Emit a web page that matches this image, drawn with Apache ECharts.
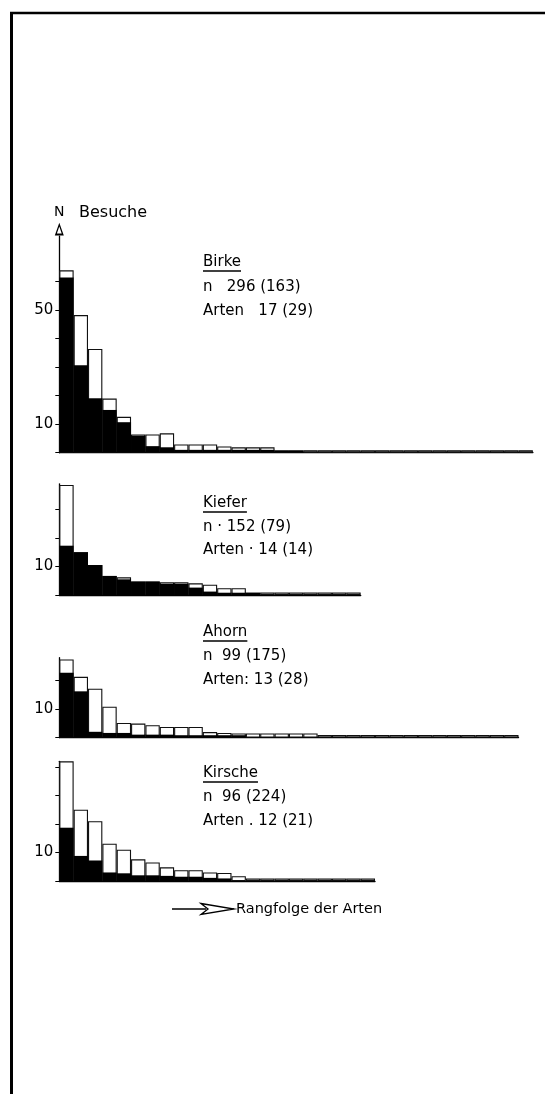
<!DOCTYPE html>
<html><head><meta charset="utf-8">
<script src="https://cdn.jsdelivr.net/npm/echarts@6/dist/echarts.min.js"></script>
<style>html,body{margin:0;padding:0;background:#fff}#c{width:545px;height:1094px}</style>
</head><body><div id="c"></div>
<script>
// ---- data ----
const birkeTotal = [64, 48.3, 36.4, 19, 12.6, 6.4, 6.4, 6.8, 2.9, 2.9, 2.9, 2.2, 1.9, 1.9, 1.9, 0.8, 0.8,
  0.9, 0.9, 0.9, 0.9, 0.9, 0.9, 0.9, 0.9, 0.9, 0.9, 0.9, 0.9, 0.9, 0.9, 0.9, 0.9];
const birkeBlack = [61.5, 30.7, 19.1, 15, 10.7, 6, 2.3, 1.9, 1, 1, 1, 1, 1, 1, 1, 0.8, 0.8,
  0, 0, 0, 0, 0, 0, 0, 0, 0, 0, 0, 0, 0, 0, 0, 0];
const kieferTotal = [38.6, 15, 10.5, 6.7, 6.2, 4.7, 4.7, 4.5, 4.5, 4.1, 3.6, 2.4, 2.4, 0.8,
  0.9, 0.9, 0.9, 0.9, 0.9, 0.9, 0.9];
const kieferBlack = [17.3, 15, 10.5, 6.7, 5.5, 4.7, 4.7, 4.0, 4.0, 2.6, 1.2, 0.8, 0.8, 0.8,
  0, 0, 0, 0, 0, 0, 0];
const ahornTotal = [27.4, 21.3, 17.1, 10.8, 5.1, 4.9, 4.3, 3.7, 3.7, 3.7, 1.9, 1.6, 1.4, 1.4, 1.4, 1.4, 1.4, 1.4,
  0.9, 0.9, 0.9, 0.9, 0.9, 0.9, 0.9, 0.9, 0.9, 0.9, 0.9, 0.9, 0.9, 0.9];
const ahornBlack = [22.7, 16.2, 2, 1.6, 1.6, 1, 1, 1, 0.8, 0.8, 0.8, 0.8, 0.8, 0, 0, 0, 0, 0,
  0, 0, 0, 0, 0, 0, 0, 0, 0, 0, 0, 0, 0, 0];
const kirscheTotal = [42, 25, 21, 13.1, 11, 7.6, 6.5, 4.8, 3.8, 3.8, 3.0, 2.8, 1.7,
  0.9, 0.9, 0.9, 0.9, 0.9, 0.9, 0.9, 0.9, 0.9];
const kirscheBlack = [18.7, 8.8, 7.2, 3, 2.7, 2, 2, 1.8, 1.5, 1.5, 1.1, 0.9, 0,
  0, 0, 0, 0, 0, 0, 0, 0, 0];

const panelNames = ['Birke', 'Kiefer', 'Ahorn', 'Kirsche'];
const panelN = ['n   296 (163)', 'n · 152 (79)', 'n  99 (175)', 'n  96 (224)'];
const panelArten = ['Arten   17 (29)', 'Arten · 14 (14)', 'Arten: 13 (28)', 'Arten . 12 (21)'];
const yTickValues = [[0, 10, 20, 30, 40, 50, 60], [0, 10, 20, 30], [0, 10, 20], [0, 10, 20, 30, 40]];
const yLabelValues = [[10, 50], [10], [10], [10]];
const yAxisTitle = 'Besuche';
const yAxisLetter = 'N';
const xAxisTitle = 'Rangfolge der Arten';

// ---- layout ----
const totals = [birkeTotal, kieferTotal, ahornTotal, kirscheTotal];
const blacks = [birkeBlack, kieferBlack, ahornBlack, kirscheBlack];
const baselines = [452.7, 595, 737.5, 881];
const yMax = [76, 39, 28, 42];
const PX = 2.85;       // pixels per unit
const LEFT = 59.3;
const BARW = 14.35;
const textY = [[262, 287, 311], [503, 527, 550], [632, 656, 680], [773, 797, 821]];
const TEXTX = 203;
const FONT = 'DejaVu Sans';

const grids = [], xAxes = [], yAxes = [], series = [];
totals.forEach((tot, i) => {
  const h = yMax[i] * PX;
  grids.push({left: LEFT, top: baselines[i] - h, width: tot.length * BARW, height: h, outerBoundsMode: 'none'});
  xAxes.push({
    type: 'category', gridIndex: i, data: tot.map((_, k) => String(k + 1)), boundaryGap: true,
    axisLine: {show: true, lineStyle: {color: '#000', width: 1.4}},
    axisTick: {show: false}, axisLabel: {show: false}, splitLine: {show: false}
  });
  yAxes.push({
    type: 'value', gridIndex: i, min: 0, max: yMax[i],
    axisLine: Object.assign({show: true, lineStyle: {color: '#000', width: 1.3}},
      i === 0 ? {symbol: ['none', 'path://M0,0L5,14L-5,14ZM0,4.2L-2.7,12L2.7,12Z'], symbolSize: [9, 15], symbolOffset: [0, 7]} : {}),
    axisTick: {show: true, length: 4, customValues: yTickValues[i], lineStyle: {color: '#000', width: 1}},
    axisLabel: {show: true, customValues: yLabelValues[i], color: '#000', fontSize: 15, fontFamily: FONT, margin: 6},
    splitLine: {show: false}
  });
  series.push({
    type: 'bar', xAxisIndex: i, yAxisIndex: i, data: tot, barWidth: '100%', barGap: '-100%',
    itemStyle: {
      color: p => (p.value < 1 && blacks[i][p.dataIndex] === 0) ? '#9a9a9a' : '#fff',
      borderColor: '#111', borderWidth: 1.1
    },
    z: 2, silent: true
  });
  series.push({
    type: 'bar', xAxisIndex: i, yAxisIndex: i, data: blacks[i], barWidth: '100%', barGap: '-100%',
    itemStyle: {color: '#000'}, z: 3, silent: true
  });
});

const ctx = document.createElement('canvas').getContext('2d');
ctx.font = '15px ' + FONT;

const graphic = [
  {type: 'line', shape: {x1: 11.5, y1: 12, x2: 11.5, y2: 1094}, style: {stroke: '#000', lineWidth: 3}},
  {type: 'line', shape: {x1: 10, y1: 13, x2: 545, y2: 13}, style: {stroke: '#000', lineWidth: 2.5}},
  {type: 'text', x: LEFT, y: 212, style: {text: yAxisLetter, font: '14px ' + FONT, fill: '#000', align: 'center', verticalAlign: 'middle'}},
  {type: 'text', x: 79, y: 213, style: {text: yAxisTitle, font: '16px ' + FONT, fill: '#000', verticalAlign: 'middle'}},
  // Rangfolge arrow
  {type: 'line', shape: {x1: 172, y1: 909, x2: 206, y2: 909}, style: {stroke: '#000', lineWidth: 1.3}},
  {type: 'polygon', shape: {points: [[201, 903.5], [234, 909], [201, 914.5], [208, 909]]}, style: {fill: 'none', stroke: '#000', lineWidth: 1.3}},
  {type: 'text', x: 236, y: 909, style: {text: xAxisTitle, font: '14.5px ' + FONT, fill: '#000', verticalAlign: 'middle'}}
];
panelNames.forEach((name, i) => {
  const w = ctx.measureText(name).width;
  graphic.push({type: 'text', x: TEXTX, y: textY[i][0], style: {text: name, font: '15px ' + FONT, fill: '#000', verticalAlign: 'middle'}});
  graphic.push({type: 'line', shape: {x1: TEXTX, y1: textY[i][0] + 9, x2: TEXTX + w, y2: textY[i][0] + 9}, style: {stroke: '#000', lineWidth: 1.3}});
  graphic.push({type: 'text', x: TEXTX, y: textY[i][1], style: {text: panelN[i], font: '15px ' + FONT, fill: '#000', verticalAlign: 'middle'}});
  graphic.push({type: 'text', x: TEXTX, y: textY[i][2], style: {text: panelArten[i], font: '15px ' + FONT, fill: '#000', verticalAlign: 'middle'}});
});

const chart = echarts.init(document.getElementById('c'), null, {renderer: 'canvas'});
chart.setOption({
  animation: false,
  backgroundColor: '#fff',
  grid: grids, xAxis: xAxes, yAxis: yAxes, series: series,
  graphic: graphic
});
</script>
</body></html>
